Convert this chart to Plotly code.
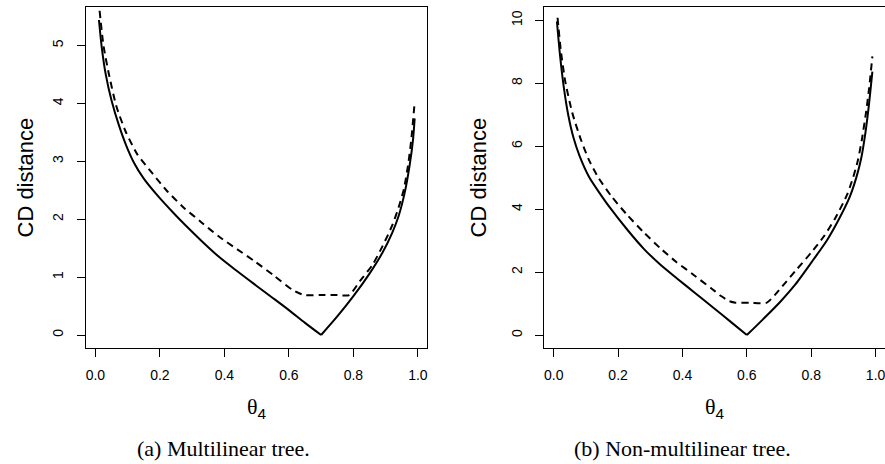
import numpy as np
import plotly.graph_objects as go

# ---- (a) Multilinear tree ----
theta_a_solid = [0.011, 0.02, 0.032, 0.05, 0.073, 0.095, 0.12, 0.15, 0.197, 0.24, 0.28, 0.33,
                 0.383, 0.44, 0.497, 0.55, 0.6, 0.65, 0.70,
                 0.75, 0.80, 0.85, 0.89, 0.92, 0.94, 0.96, 0.975, 0.985, 0.99]
cd_a_solid = [5.44, 4.95, 4.50, 4.05, 3.62, 3.28, 2.97, 2.70, 2.38, 2.12, 1.89, 1.62,
              1.35, 1.10, 0.86, 0.64, 0.43, 0.21, 0.0,
              0.32, 0.67, 1.06, 1.42, 1.76, 2.05, 2.48, 2.95, 3.38, 3.74]

theta_a_dash = [0.013, 0.025, 0.042, 0.065, 0.094, 0.13, 0.177, 0.22, 0.27, 0.33, 0.383,
                0.44, 0.497, 0.555, 0.611, 0.647, 0.70, 0.75, 0.787,
                0.82, 0.859, 0.89, 0.921, 0.94, 0.957, 0.97, 0.98, 0.99]
cd_a_dash = [5.60, 5.00, 4.50, 3.95, 3.51, 3.12, 2.79, 2.50, 2.22, 1.94, 1.70,
             1.48, 1.26, 1.02, 0.78, 0.69, 0.69, 0.69, 0.69,
             0.93, 1.21, 1.53, 1.90, 2.20, 2.53, 2.95, 3.40, 4.02]

# ---- (b) Non-multilinear tree ----
theta_b_solid = [0.010, 0.02, 0.031, 0.045, 0.062, 0.08, 0.11, 0.14, 0.176, 0.23, 0.28, 0.33,
                 0.383, 0.44, 0.497, 0.55, 0.60,
                 0.65, 0.704, 0.75, 0.807, 0.85, 0.89, 0.92, 0.94, 0.955, 0.968, 0.978, 0.99]
cd_b_solid = [9.96, 8.85, 7.90, 7.00, 6.25, 5.70, 5.02, 4.55, 4.03, 3.33, 2.74, 2.25,
              1.80, 1.33, 0.86, 0.42, 0.0,
              0.50, 1.06, 1.60, 2.40, 3.03, 3.76, 4.40, 5.00, 5.60, 6.40, 7.20, 8.37]

theta_b_dash = [0.012, 0.022, 0.036, 0.058, 0.083, 0.11, 0.14, 0.18, 0.228, 0.28, 0.331,
                0.38, 0.435, 0.49, 0.52, 0.545, 0.565, 0.61, 0.662,
                0.71, 0.756, 0.80, 0.839, 0.875, 0.911, 0.93, 0.945, 0.958, 0.97, 0.98, 0.99]
cd_b_dash = [10.08, 9.05, 8.05, 7.05, 6.25, 5.55, 4.98, 4.40, 3.82, 3.26, 2.76,
             2.33, 1.91, 1.48, 1.24, 1.08, 1.03, 1.03, 1.03,
             1.55, 2.10, 2.62, 3.13, 3.72, 4.45, 5.00, 5.55, 6.25, 7.05, 7.85, 8.85]

axis_ticks_x = [0.0, 0.2, 0.4, 0.6, 0.8, 1.0]
tick_text_x = ["0.0", "0.2", "0.4", "0.6", "0.8", "1.0"]
axis_ticks_ya = [0, 1, 2, 3, 4, 5]
axis_ticks_yb = [0, 2, 4, 6, 8, 10]
captions = ["(a) Multilinear tree.", "(b) Non-multilinear tree."]

W, H = 885, 464
LINE_W = 2
DASH = "7px,5px"

fig = go.Figure()


def add_solid(x, y, xa, ya):
    # split at the minimum so the kink stays sharp while the branches stay smooth
    i = int(np.argmin(y))
    for xs, ys in ((x[: i + 1], y[: i + 1]), (x[i:], y[i:])):
        fig.add_trace(go.Scatter(x=xs, y=ys, mode="lines", xaxis=xa, yaxis=ya,
                                 line=dict(color="black", width=LINE_W, shape="spline", smoothing=0.8),
                                 showlegend=False, hoverinfo="skip"))


def add_dash(x, y, xa, ya):
    fig.add_trace(go.Scatter(x=x, y=y, mode="lines", xaxis=xa, yaxis=ya,
                             line=dict(color="black", width=LINE_W, dash=DASH, shape="spline", smoothing=0.6),
                             showlegend=False, hoverinfo="skip"))


add_solid(theta_a_solid, cd_a_solid, "x", "y")
add_dash(theta_a_dash, cd_a_dash, "x", "y")
add_solid(theta_b_solid, cd_b_solid, "x2", "y2")
add_dash(theta_b_dash, cd_b_dash, "x2", "y2")

ydom = [(464 - 348) / H, (464 - 6.7) / H]
xa_dom = [86 / W, 427.3 / W]
xb_dom = [544.3 / W, 1.0]

tick_font = dict(family="Liberation Sans, Arial, sans-serif", size=14, color="black")

common_x = dict(range=[-0.0292, 1.0292], tickvals=axis_ticks_x, ticktext=tick_text_x,
                ticks="outside", ticklen=8, tickwidth=1, tickcolor="black",
                showline=True, linecolor="black", linewidth=1, mirror=True,
                showgrid=False, zeroline=False, tickfont=tick_font, ticklabelstandoff=6,
                ticklabeloverflow="allow")
common_y = dict(ticks="outside", ticklen=8, tickwidth=1, tickcolor="black",
                showline=True, linecolor="black", linewidth=1,
                showgrid=False, zeroline=False, tickfont=tick_font, tickangle=-90,
                ticklabelstandoff=8, domain=ydom)

fig.update_layout(
    width=W, height=H, margin=dict(l=0, r=0, t=0, b=0),
    paper_bgcolor="white", plot_bgcolor="white",
    xaxis=dict(domain=xa_dom, anchor="y", **common_x),
    yaxis=dict(range=[-0.2245, 5.67], tickvals=axis_ticks_ya, anchor="x", mirror=True, **common_y),
    xaxis2=dict(domain=xb_dom, anchor="y2", **common_x),
    yaxis2=dict(range=[-0.41, 10.43], tickvals=axis_ticks_yb, anchor="x2", mirror=False, **common_y),
)

label_font = dict(family="Liberation Sans, Arial, sans-serif", size=22, color="black")
theta_txt = '<span style="font-family:Liberation Serif">θ</span><sub>4</sub>'
ann = []
for cx, ylab_x in ((256.5, 25), (714.7, 478)):
    ann.append(dict(x=ylab_x / W, y=1 - 177.5 / H, xref="paper", yref="paper", text="CD distance",
                    textangle=-90, showarrow=False, font=label_font, xanchor="center", yanchor="middle"))
    ann.append(dict(x=cx / W, y=1 - 408 / H, xref="paper", yref="paper", text=theta_txt,
                    showarrow=False, font=label_font, xanchor="center", yanchor="middle"))
for cx, cap in ((223, captions[0]), (682.5, captions[1])):
    ann.append(dict(x=cx / W, y=1 - 448 / H, xref="paper", yref="paper", text=cap, showarrow=False,
                    font=dict(family="Liberation Serif, Times New Roman, serif", size=22, color="black"),
                    xanchor="center", yanchor="middle"))
fig.update_layout(annotations=ann)

fig.write_html("out.html")
